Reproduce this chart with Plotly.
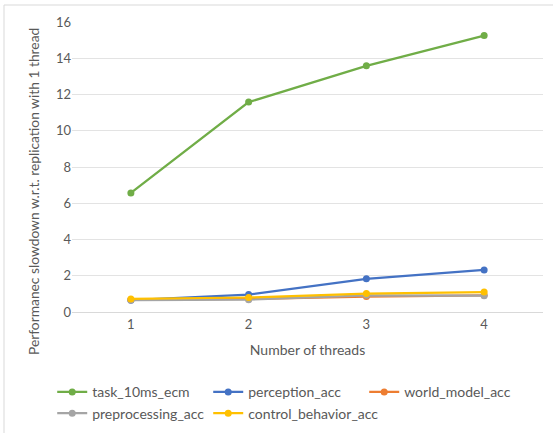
import plotly.graph_objects as go

threads = ["1", "2", "3", "4"]
task_10ms_ecm = [6.57, 11.58, 13.58, 15.25]
perception_acc = [0.65, 0.96, 1.83, 2.32]
world_model_acc = [0.68, 0.72, 0.85, 0.92]
preprocessing_acc = [0.66, 0.68, 0.92, 0.9]
control_behavior_acc = [0.72, 0.8, 1.02, 1.1]

series = [
    ("task_10ms_ecm", task_10ms_ecm, "#70AD47"),
    ("perception_acc", perception_acc, "#4472C4"),
    ("world_model_acc", world_model_acc, "#ED7D31"),
    ("preprocessing_acc", preprocessing_acc, "#A5A5A5"),
    ("control_behavior_acc", control_behavior_acc, "#FFC000"),
]

fig = go.Figure()
for name, vals, col in series:
    fig.add_trace(go.Scatter(
        x=threads, y=vals, name=name, mode="lines+markers",
        line=dict(color=col, width=2.25),
        marker=dict(color=col, size=7),
    ))

font = "Lato, Open Sans, sans-serif"
fig.update_layout(
    width=553, height=433,
    margin=dict(l=72, r=10, t=22, b=121, autoexpand=False),
    paper_bgcolor="white", plot_bgcolor="white",
    font=dict(family=font, size=13, color="#595959"),
    showlegend=True,
    legend=dict(
        orientation="h", x=-0.042, y=-0.222, xanchor="left", yanchor="top",
        entrywidth=111, entrywidthmode="pixels",
        font=dict(size=14, color="#595959"),
        tracegroupgap=0, itemwidth=30,
    ),
    xaxis=dict(
        type="category", range=[-0.5, 3.5],
        showgrid=False, showline=True, linecolor="#D9D9D9", linewidth=1,
        ticks="", tickfont=dict(size=13, color="#595959"),
        title=dict(text="Number of threads", font=dict(size=14, color="#595959"), standoff=14),
        zeroline=False,
    ),
    yaxis=dict(
        range=[0, 16], dtick=2, showgrid=True, gridcolor="#E3E3E3", gridwidth=1,
        zeroline=False, showline=False, ticks="",
        tickfont=dict(size=13, color="#595959"),
    ),
    annotations=[
        dict(text="Performanec slowdown w.r.t. replication with 1 thread",
             xref="paper", yref="paper", x=(33 - 72) / 471, y=(312 - 192) / 290,
             xanchor="center", yanchor="middle", textangle=-90, showarrow=False,
             font=dict(size=13.8, color="#595959")),
    ],
    shapes=[
        dict(type="line", xref="paper", yref="paper",
             x0=(4 - 72) / 471, x1=(4 - 72) / 471, y0=(312 - 5) / 290, y1=(312 - 440) / 290,
             line=dict(color="#D9D9D9", width=1)),
        dict(type="line", xref="paper", yref="paper",
             x0=(4 - 72) / 471, x1=(560 - 72) / 471, y0=(312 - 5) / 290, y1=(312 - 5) / 290,
             line=dict(color="#D9D9D9", width=1)),
    ],
)

fig.write_html("out.html", config={"displayModeBar": False},
               post_script="document.body.style.margin='0';document.body.style.overflow='hidden';")
